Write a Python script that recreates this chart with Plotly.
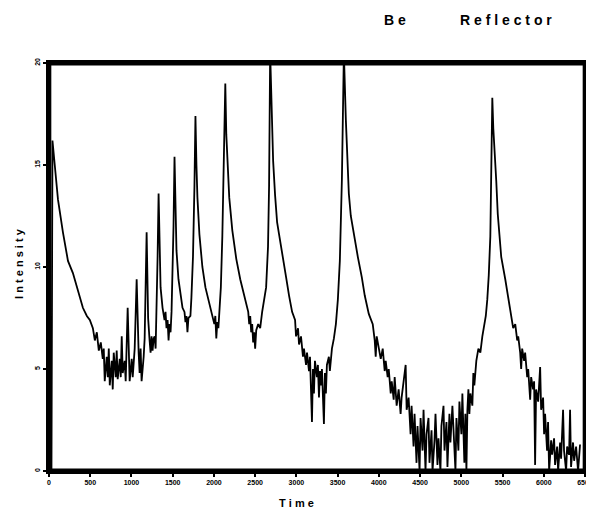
import plotly.graph_objects as go

# Time channel values
time = [
    0, 30, 42, 72, 109, 169, 230, 290, 350, 411, 459, 495, 532, 556, 580, 604, 628, 652, 664, 676,
    700, 713, 725, 737, 761, 773, 785, 809, 821, 833, 858, 870, 882, 894, 918, 930, 954, 966, 978,
    1003, 1015, 1039, 1063, 1087, 1099, 1111, 1123, 1148, 1160, 1184, 1202, 1220, 1232, 1244, 1256,
    1269, 1281, 1293, 1305, 1317, 1329, 1341, 1353, 1377, 1401, 1413, 1425, 1438, 1450, 1462, 1474,
    1486, 1498, 1510, 1522, 1534, 1546, 1570, 1594, 1619, 1643, 1655, 1667, 1679, 1691, 1715, 1727,
    1746, 1764, 1776, 1788, 1800, 1824, 1860, 1897, 1933, 1969, 1993, 2005, 2017, 2029, 2041, 2054,
    2066, 2084, 2102, 2120, 2138, 2150, 2168, 2186, 2223, 2271, 2319, 2356, 2392, 2416, 2428, 2440,
    2452, 2464, 2476, 2488, 2500, 2513, 2537, 2561, 2585, 2609, 2633, 2656, 2669, 2682, 2700, 2718,
    2742, 2766, 2790, 2827, 2875, 2911, 2948, 2984, 2996, 3020, 3032, 3056, 3080, 3092, 3117, 3129,
    3153, 3165, 3189, 3201, 3213, 3225, 3249, 3261, 3274, 3286, 3298, 3310, 3334, 3346, 3358, 3370,
    3394, 3406, 3431, 3455, 3479, 3503, 3527, 3552, 3576, 3600, 3618, 3636, 3660, 3696, 3745, 3793,
    3829, 3878, 3926, 3950, 3962, 3974, 3999, 4023, 4047, 4071, 4083, 4107, 4120, 4144, 4156, 4180,
    4192, 4216, 4240, 4264, 4276, 4301, 4325, 4337, 4361, 4385, 4397, 4421, 4433, 4457, 4469, 4494,
    4506, 4530, 4542, 4566, 4578, 4602, 4614, 4639, 4651, 4675, 4687, 4711, 4723, 4747, 4759, 4784,
    4796, 4820, 4832, 4856, 4868, 4892, 4904, 4929, 4941, 4965, 4977, 5001, 5013, 5037, 5049, 5062,
    5074, 5086, 5098, 5110, 5134, 5146, 5158, 5182, 5207, 5231, 5255, 5279, 5297, 5315, 5333, 5352,
    5364, 5376, 5388, 5406, 5424, 5442, 5460, 5484, 5533, 5569, 5605, 5629, 5654, 5678, 5690, 5714,
    5726, 5738, 5762, 5774, 5799, 5811, 5835, 5847, 5871, 5883, 5895, 5907, 5932, 5944, 5956, 5968,
    5992, 6004, 6016, 6040, 6052, 6065, 6089, 6101, 6125, 6137, 6162, 6174, 6198, 6210, 6234, 6246,
    6271, 6283, 6307, 6319, 6331, 6355, 6368, 6392, 6416, 6440,
]

# Intensity readings (peaks at the top are clipped by the frame)
intensity = [
    0, 0, 16.2, 14.9, 13.3, 11.7, 10.3, 9.7, 8.9, 8.0, 7.6, 7.4, 7.0, 6.4, 6.8, 5.9, 6.3, 5.5, 6.0, 4.4,
    5.6, 4.6, 6.0, 4.2, 5.4, 4.0, 5.8, 4.6, 5.9, 4.5, 5.5, 4.6, 6.6, 4.8, 5.4, 4.4, 8.0, 5.6, 4.4,
    5.5, 4.6, 6.0, 9.4, 5.8, 4.8, 6.0, 4.4, 5.6, 6.5, 11.7, 7.5, 6.4, 5.8, 6.6, 5.9,
    6.5, 6.6, 6.0, 8.0, 10.5, 13.6, 10.5, 9.0, 8.0, 7.4, 7.8, 7.0, 7.4, 6.4, 7.2, 6.8,
    7.8, 9.5, 12.0, 15.4, 12.5, 10.8, 9.4, 8.6, 8.0, 7.8, 7.3, 7.6, 6.8, 7.5, 7.6, 8.5,
    10.5, 14.0, 17.4, 15.0, 13.4, 11.6, 10.0, 9.0, 8.4, 7.8, 7.5, 7.2, 7.6, 6.5, 7.3, 7.0,
    7.8, 9.0, 11.5, 15.0, 19.0, 16.5, 14.5, 13.4, 11.8, 10.4, 9.4, 8.8, 8.2, 7.8, 7.2, 7.6,
    6.8, 7.2, 6.3, 6.8, 6.0, 6.9, 7.2, 7.0, 7.8, 8.4, 9.0, 11.0, 14.0, 20.5, 17.0, 15.2,
    13.5, 12.2, 11.6, 10.6, 9.5, 8.6, 7.8, 7.4, 6.6, 7.0, 6.2, 6.6, 5.6, 6.0, 5.2, 5.8,
    4.9, 5.6, 2.4, 5.0, 3.8, 5.4, 4.6, 5.2, 3.6, 4.9, 4.2, 5.0, 2.3, 4.8, 3.8, 5.2,
    5.6, 4.9, 6.0, 6.5, 7.2, 8.4, 10.3, 14.3, 20.5, 17.2, 15.0, 13.6, 12.5, 11.6, 10.5, 9.5,
    8.6, 7.7, 7.2, 6.4, 5.6, 6.6, 6.1, 5.5, 6.0, 4.9, 5.4, 4.6, 5.0, 3.8, 4.4, 3.5,
    4.6, 3.2, 4.0, 2.8, 3.6, 4.6, 5.2, 3.0, 3.6, 1.8, 3.2, 1.2, 2.8, 0.4, 2.2, 0.0,
    2.6, 1.0, 3.0, 0.0, 1.8, 2.6, 0.4, 2.0, 0.0, 1.5, 2.8, 0.3, 1.6, 0.0, 2.2, 3.2,
    1.0, 2.4, 0.2, 2.8, 1.4, 3.2, 2.0, 0.0, 2.6, 1.0, 3.4, 1.8, 3.8, 0.4, 2.8, 0.0,
    3.0, 4.0, 2.8, 3.8, 3.2, 4.8, 4.2, 5.4, 6.0, 5.8, 6.6, 7.2, 7.6, 8.4, 9.6, 11.5,
    14.0, 18.3, 16.8, 15.6, 14.2, 12.6, 11.5, 10.5, 9.4, 8.5, 7.8, 7.0, 7.2, 6.4, 6.6, 5.8,
    5.0, 6.0, 5.4, 5.8, 4.6, 5.0, 3.5, 4.6, 4.0, 4.4, 0.3, 4.0, 3.4, 4.2, 5.1, 3.0,
    3.6, 1.8, 2.8, 1.0, 2.4, 0.0, 1.5, 0.8, 1.6, 0.3, 1.2, 0.0, 1.4, 0.6, 3.0, 1.0,
    0.0, 1.2, 0.8, 3.0, 0.2, 1.4, 0.5, 1.2, 0.0, 1.3,
]

x_ticks = [0, 500, 1000, 1500, 2000, 2500, 3000, 3500, 4000, 4500, 5000, 5500, 6000, 6500]
y_ticks = [0, 5, 10, 15, 20]

fig = go.Figure()
fig.add_trace(go.Scatter(
    x=time, y=intensity, mode="lines",
    line=dict(color="black", width=1.8),
    showlegend=False, hoverinfo="skip",
))

axis_common = dict(
    showline=True, linecolor="black", linewidth=2.5, mirror=True,
    showgrid=False, zeroline=False,
    ticks="outside", ticklen=3, tickwidth=1.5, tickcolor="black",
    tickfont=dict(family="Liberation Sans", size=7, color="black", weight="bold"),
)

fig.update_xaxes(
    range=[0, 6500], tickvals=x_ticks,
    ticktext=[str(v) for v in x_ticks],
    **axis_common,
)
fig.update_yaxes(
    range=[0, 20], tickvals=y_ticks,
    ticktext=[str(v) for v in y_ticks], tickangle=-90,
    **axis_common,
)

# plot frame drawn just inside the axes
fig.add_shape(type="rect", xref="paper", yref="paper",
              x0=0.002, x1=0.998, y0=0.003, y1=0.997,
              line=dict(color="black", width=2.5), layer="above")

title_font = dict(family="Liberation Sans", size=14, color="black")
label_font = dict(family="Liberation Sans", size=11, color="black")
ann = dict(xref="paper", yref="paper", showarrow=False, xanchor="center", yanchor="middle")
fig.update_layout(
    # the page body adds an 8 px offset, so the figure is 8 px smaller
    width=586, height=505,
    margin=dict(l=41, r=9, t=55, b=42, autoexpand=False),
    paper_bgcolor="white", plot_bgcolor="white",
    annotations=[
        dict(text="<b>B e</b>", x=0.646, y=1.105, font=title_font, **ann),
        dict(text="<b>R e f l e c t o r</b>", x=0.853, y=1.105, font=title_font, **ann),
        dict(text="<b>T i m e</b>", x=0.461, y=-0.078, font=label_font, **ann),
        dict(text="<b>I n t e n s i t y</b>", x=-0.056, y=0.51, textangle=-90,
             font=label_font, **ann),
    ],
)

fig.write_html("out.html")
